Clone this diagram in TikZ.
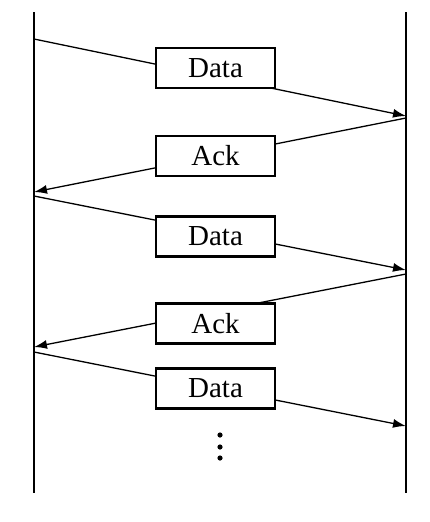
\documentclass[tikz,border=0pt]{standalone}
\usepackage{fontspec}
\setmainfont{Liberation Serif}
\usetikzlibrary{arrows.meta}

\tikzset{
	msgbox/.style={draw, line width=2.2pt, fill=white, minimum width=119pt, minimum height=40pt, inner sep=0pt, font=\fontsize{29}{31}\selectfont},
	msgline/.style={line width=1.3pt, -{Latex[length=13pt, width=9pt]}},
	lifeline/.style={line width=2.2pt}
}

\begin{document}
\begin{tikzpicture}[x=1pt, y=-1pt]
		%%%%% START %%%%%
		\useasboundingbox (0, 0) rectangle (430, 522);
		
		% sender and receiver
		\coordinate (sTop) at (34, 12);
		\coordinate (sBot) at (34, 493);
		\coordinate (rTop) at (406, 12);
		\coordinate (rBot) at (406, 493);
		\draw[lifeline] (sTop) -- (sBot);
		\draw[lifeline] (rTop) -- (rBot);
		
		% end points of the messages
		\coordinate (s1) at (34, 39);   \coordinate (r1) at (406, 116);
		\coordinate (r2) at (406, 118); \coordinate (s2) at (34, 192);
		\coordinate (s3) at (34, 196);  \coordinate (r3) at (406, 270);
		\coordinate (r4) at (406, 274); \coordinate (s4) at (34, 347);
		\coordinate (s5) at (34, 352);  \coordinate (r5) at (406, 426);
		
		\draw[msgline] (s1) -- (r1);
		\draw[msgline] (r2) -- (s2);
		\draw[msgline] (s3) -- (r3);
		\draw[msgline] (r4) -- (s4);
		\draw[msgline] (s5) -- (r5);
		
		% labels
		\node[msgbox] (data1) at (215.5, 68) {Data};
		\node[msgbox] (ack1) at (215.5, 156) {Ack};
		\node[msgbox] (data2) at (215.5, 236.5) {Data};
		\node[msgbox] (ack2) at (215.5, 323.5) {Ack};
		\node[msgbox] (data3) at (215.5, 388.5) {Data};
		
		% more to come
		\fill (220, 435) circle (2.6);
		\fill (220, 447) circle (2.6);
		\fill (220, 458) circle (2.6);
		
		%%%%% END %%%%%
	\end{tikzpicture}
\end{document}
